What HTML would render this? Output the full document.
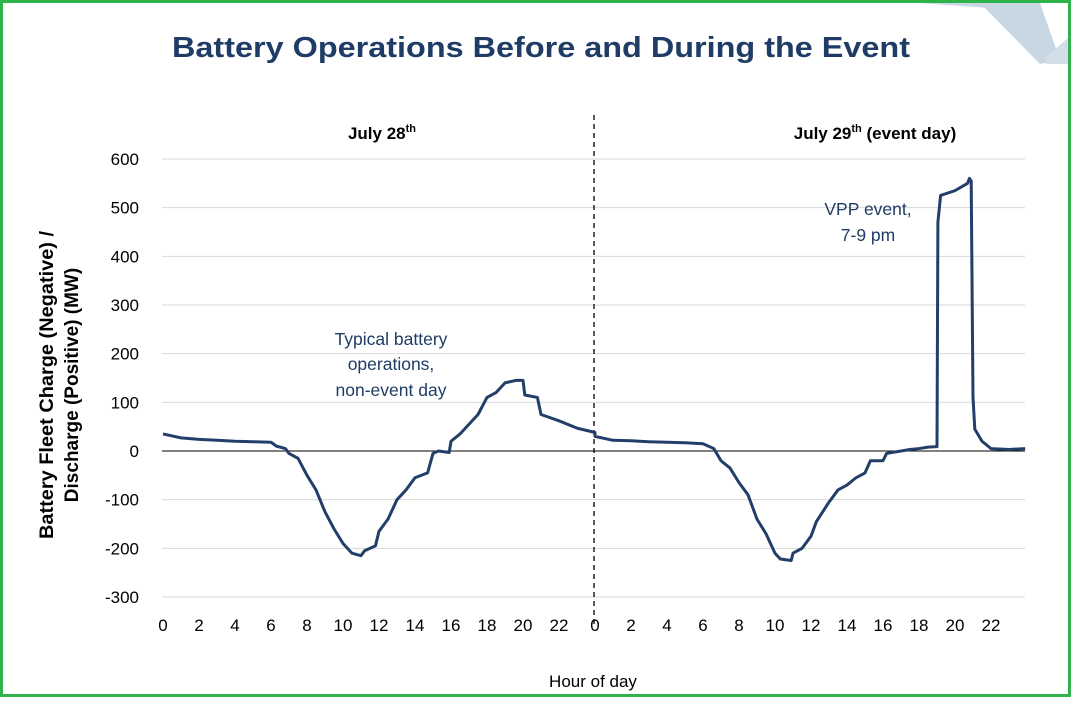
<!DOCTYPE html>
<html><head><meta charset="utf-8"><style>
html,body{margin:0;padding:0;background:#fff}
body{width:1071px;height:697px;overflow:hidden;font-family:"Liberation Sans",sans-serif}
</style></head><body>
<svg id="s" width="1071" height="697" xmlns="http://www.w3.org/2000/svg" font-family="Liberation Sans, sans-serif">
<rect x="1.5" y="1.5" width="1068" height="694" fill="#fff" stroke="#2db34a" stroke-width="3"/>
<polygon points="980,3 1040,3 1060,60 1040,64" fill="#c9d7e2"/>
<polygon points="1045,58 1068,38 1068,64 1046,64" fill="#d3dfe8"/>
<polygon points="920,3 1000,3 990,8" fill="#c9d7e2"/>
<text x="541" y="57" text-anchor="middle" font-size="29" font-weight="bold" fill="#1f3c66" textLength="738" lengthAdjust="spacingAndGlyphs">Battery Operations Before and During the Event</text>
<g id="grid" stroke="#d9d9d9" stroke-width="1"></g>
<line x1="162" y1="451" x2="1025" y2="451" stroke="#000" stroke-width="1"/>
<line x1="594" y1="115" x2="594" y2="625" stroke="#000" stroke-width="1.3" stroke-dasharray="5,4"/>
<g id="yl" font-size="17" text-anchor="end" fill="#000"></g>
<g id="xl" font-size="17" text-anchor="middle" fill="#000"></g>
<text x="382" y="139" text-anchor="middle" font-size="17" font-weight="bold">July 28<tspan font-size="11" dy="-7">th</tspan></text>
<text x="875" y="139" text-anchor="middle" font-size="17" font-weight="bold">July 29<tspan font-size="11" dy="-7">th</tspan><tspan dy="7"> (event day)</tspan></text>
<text transform="translate(53,385) rotate(-90)" text-anchor="middle" font-size="19" font-weight="bold" textLength="308" lengthAdjust="spacingAndGlyphs">Battery Fleet Charge (Negative) /</text>
<text transform="translate(78,385) rotate(-90)" text-anchor="middle" font-size="19" font-weight="bold">Discharge (Positive) (MW)</text>
<text x="593" y="687" text-anchor="middle" font-size="17">Hour of day</text>
<g font-size="17.5" fill="#1f3c66" text-anchor="middle">
<text x="391" y="345">Typical battery</text>
<text x="391" y="370">operations,</text>
<text x="391" y="396">non-event day</text>
<text x="868" y="215">VPP event,</text>
<text x="868" y="241">7-9 pm</text>
</g>
<polyline id="ln" fill="none" stroke="#233f69" stroke-width="3" stroke-linejoin="round"/>
</svg>
<script>
var ns="http://www.w3.org/2000/svg";
function Y(v){return 451-v*0.4867;}
var g=document.getElementById('grid'),yl=document.getElementById('yl'),xl=document.getElementById('xl');
for(var v=-300;v<=600;v+=100){var y=Y(v);
 if(v!=0){var l=document.createElementNS(ns,'line');l.setAttribute('x1',162);l.setAttribute('x2',1025);l.setAttribute('y1',y);l.setAttribute('y2',y);g.appendChild(l);}
 var t=document.createElementNS(ns,'text');t.setAttribute('x',139);t.setAttribute('y',y+6);t.textContent=v;yl.appendChild(t);}
for(var d=0;d<2;d++)for(var h=0;h<=22;h+=2){var t=document.createElementNS(ns,'text');t.setAttribute('x',(d?595:163)+18*h);t.setAttribute('y',631);t.textContent=h;xl.appendChild(t);}
var d1=[[0,35],[1,27],[2,24],[3,22],[4,20],[5,19],[6,18],[6.3,10],[6.8,5],[7,-5],[7.5,-15],[8,-50],[8.5,-80],[9,-125],[9.5,-160],[10,-190],[10.5,-210],[11,-215],[11.2,-205],[11.8,-195],[12,-165],[12.5,-140],[13,-100],[13.5,-80],[14,-55],[14.7,-45],[15,-5],[15.3,0],[15.9,-3],[16,20],[16.5,35],[17,55],[17.5,75],[18,110],[18.5,120],[19,140],[19.6,145],[20,145],[20.1,115],[20.8,110],[21,75],[22,62],[23,47],[24,38]];
var d2=[[0,30],[1,22],[2,21],[3,19],[4,18],[5,17],[6,15],[6.6,5],[7,-20],[7.5,-35],[8,-65],[8.5,-90],[9,-140],[9.5,-170],[10,-210],[10.3,-222],[10.9,-225],[11,-210],[11.5,-200],[12,-175],[12.3,-145],[13,-105],[13.5,-80],[14,-70],[14.5,-55],[15,-45],[15.3,-20],[16,-20],[16.2,-5],[17,0],[17.5,3],[18,5],[18.5,8],[19,9],[19.05,470],[19.2,525],[20,535],[20.7,550],[20.8,560],[20.9,555],[21,110],[21.1,45],[21.5,20],[22,5],[23,3],[23.9,5]];
var p=[];d1.forEach(function(a){p.push((163+18*a[0])+','+Y(a[1]));});
d2.forEach(function(a){p.push((595+18*a[0])+','+Y(a[1]));});
document.getElementById('ln').setAttribute('points',p.join(' '));
</script>
</body></html>
